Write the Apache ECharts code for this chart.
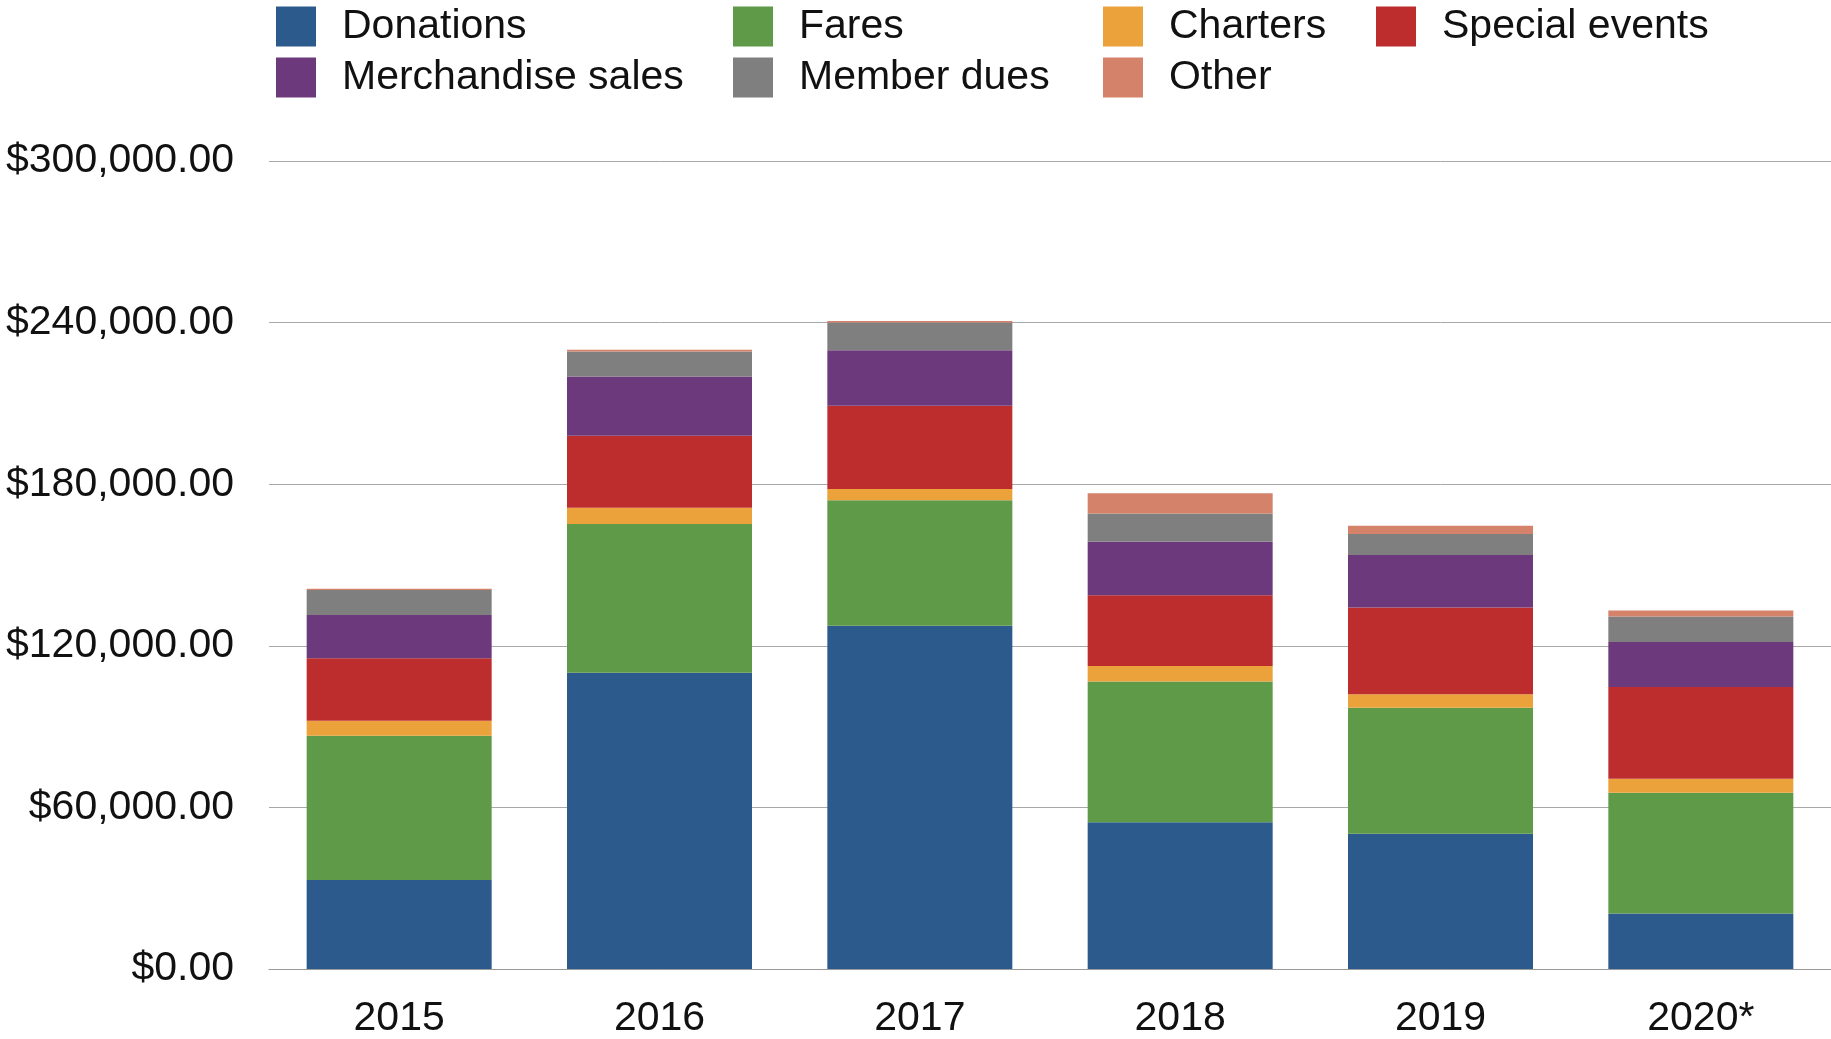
<!DOCTYPE html>
<html>
<head>
<meta charset="utf-8">
<script src="https://cdn.jsdelivr.net/npm/echarts@6/dist/echarts.min.js"></script>
<style>
html,body{margin:0;padding:0;background:#fff;}
#chart{width:1831px;height:1039px;}
</style>
</head>
<body>
<div id="chart"></div>
<script>
const categories = ['2015', '2016', '2017', '2018', '2019', '2020*'];
const donations = [33000, 110000, 127400, 54500, 50200, 20600];
const fares = [53600, 55200, 46600, 52200, 46800, 44800];
const charters = [5600, 6100, 4200, 5800, 5000, 5200];
const specialEvents = [23200, 26700, 30900, 26300, 32200, 34100];
const merchandise = [16000, 22000, 20600, 19800, 19500, 16700];
const memberDues = [9300, 9300, 10300, 10500, 7800, 9500];
const other = [500, 600, 600, 7500, 3100, 2200];
const yTicks = [0, 60000, 120000, 180000, 240000, 300000];

const seriesDefs = [
  ['Donations', donations, '#2d5a8c'],
  ['Fares', fares, '#5e9a47'],
  ['Charters', charters, '#eba23a'],
  ['Special events', specialEvents, '#be2d2e'],
  ['Merchandise sales', merchandise, '#6c3a7c'],
  ['Member dues', memberDues, '#7f7f7f'],
  ['Other', other, '#d4826a']
];

const legendPos = {
  'Donations': [276, 6],
  'Fares': [733, 6],
  'Charters': [1103, 6],
  'Special events': [1376, 6],
  'Merchandise sales': [276, 57],
  'Member dues': [733, 57],
  'Other': [1103, 57]
};

const FONT = '"Liberation Sans", Arial, Helvetica, sans-serif';

const chart = echarts.init(document.getElementById('chart'));
chart.setOption({
  animation: false,
  backgroundColor: '#ffffff',
  legend: seriesDefs.map(d => ({
    data: [d[0]],
    left: legendPos[d[0]][0],
    top: legendPos[d[0]][1],
    padding: 0,
    itemWidth: 40,
    itemHeight: 40,
    icon: 'rect',
    textStyle: { fontSize: 41, color: '#111', fontFamily: FONT, padding: [0, 0, 0, 21] }
  })),
  grid: { left: 269, right: 0, top: 161, bottom: 70, containLabel: false },
  xAxis: {
    type: 'category',
    data: categories,
    axisTick: { show: false },
    axisLine: { show: true, lineStyle: { color: '#9a9a9a', width: 1 } },
    axisLabel: { fontSize: 41, color: '#111', fontFamily: FONT, margin: 29 }
  },
  yAxis: {
    type: 'value',
    min: yTicks[0],
    max: yTicks[yTicks.length - 1],
    interval: yTicks[1] - yTicks[0],
    axisLine: { show: false },
    axisTick: { show: false },
    splitLine: { lineStyle: { color: '#a8a8a8', width: 1 } },
    axisLabel: {
      fontSize: 41, color: '#111', fontFamily: FONT, margin: 35,
      formatter: v => '$' + v.toLocaleString('en-US', { minimumFractionDigits: 2, maximumFractionDigits: 2 })
    }
  },
  series: seriesDefs.map(d => ({
    name: d[0],
    type: 'bar',
    stack: 'total',
    data: d[1],
    barWidth: 185,
    itemStyle: { color: d[2] },
    emphasis: { disabled: true }
  }))
});
</script>
</body>
</html>
